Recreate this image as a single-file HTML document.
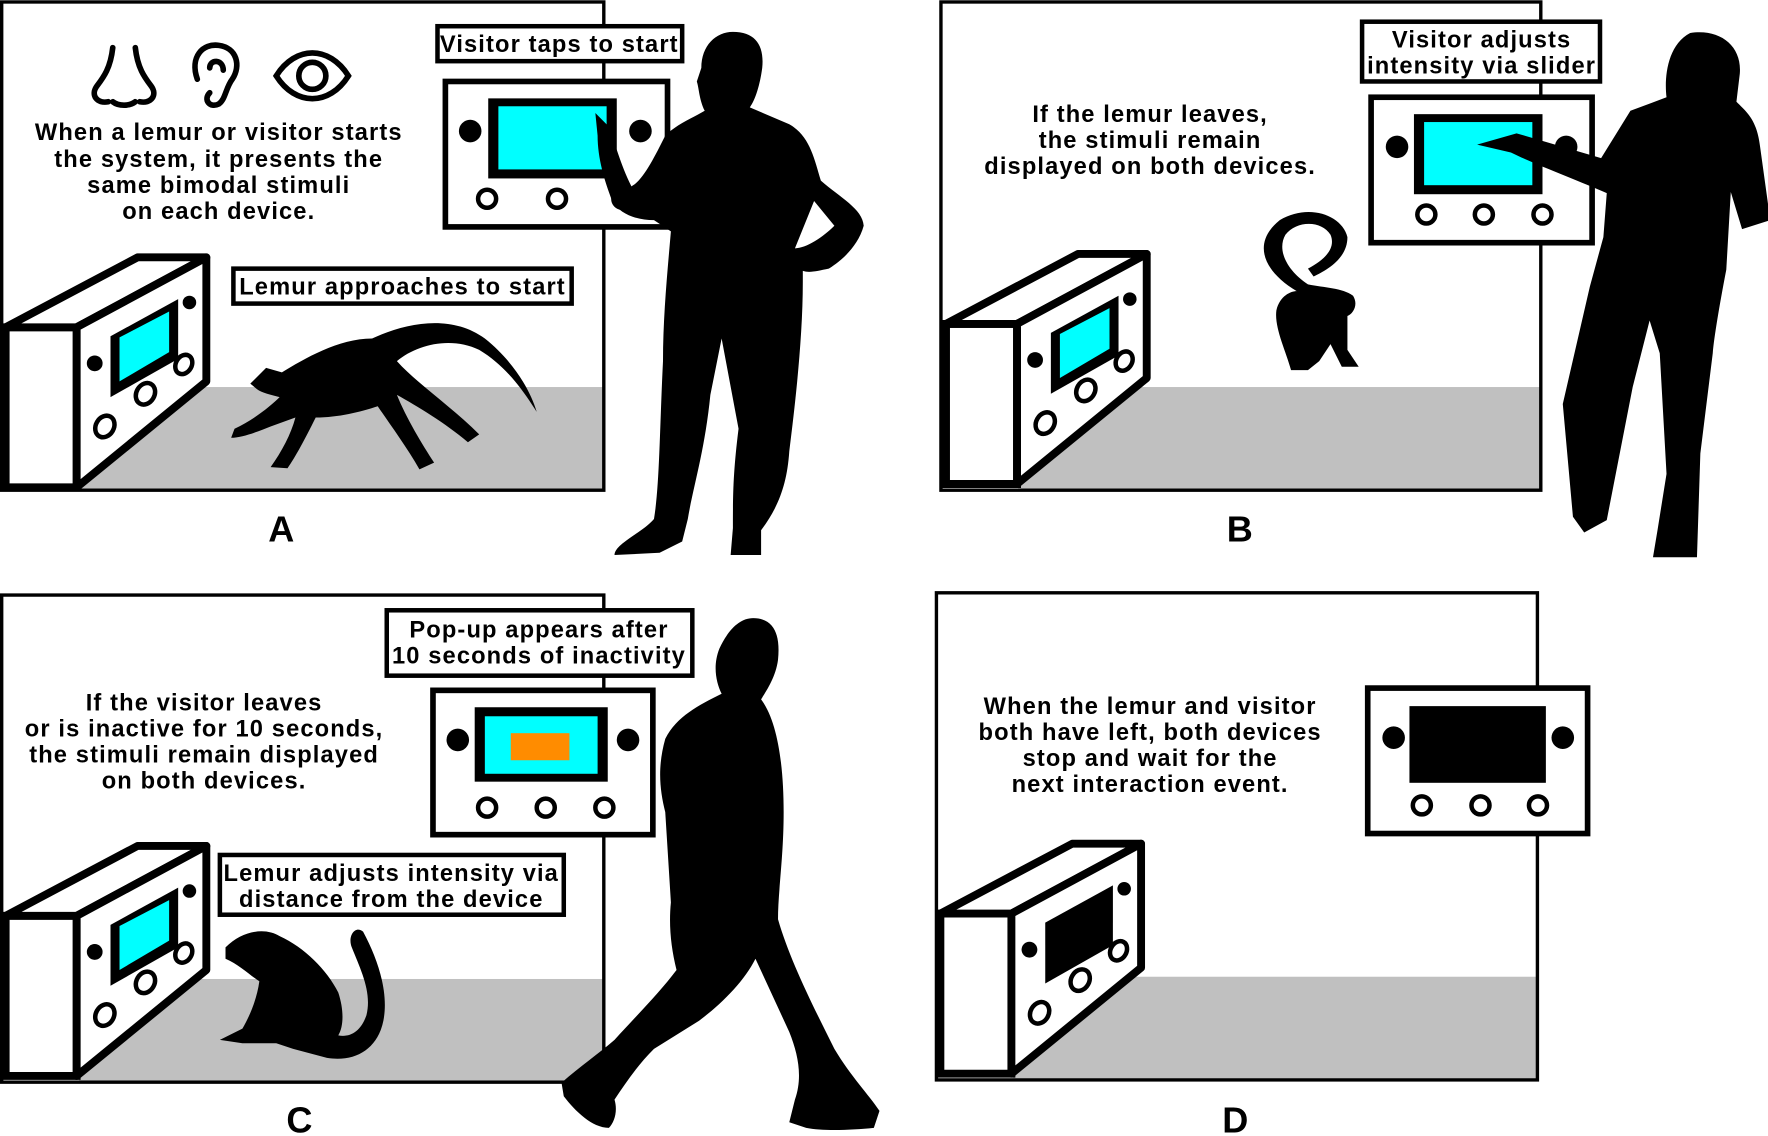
<!DOCTYPE html>
<html><head><meta charset="utf-8"><style>
html,body{margin:0;padding:0;background:#fff;width:1768px;height:1136px;overflow:hidden}
svg{display:block}
text{font-family:"Liberation Sans",sans-serif;font-weight:bold;fill:#000;letter-spacing:1px}
</style></head><body>
<svg width="1768" height="1136" viewBox="0 0 1568 1007" xmlns="http://www.w3.org/2000/svg">
<defs>
<g id="box3d">
  <polygon points="5,290 68,290 68,432 5,432" fill="#fff" stroke="#000" stroke-width="7"/>
  <polygon points="5,290 122,228 183,228 68,290" fill="#fff" stroke="#000" stroke-width="7" stroke-linejoin="round"/>
  <polygon points="68,290 183,228 183,338 68,432" fill="#fff" stroke="#000" stroke-width="7" stroke-linejoin="round"/>
  <polygon points="98,298 158,265 158,318 98,352" fill="#000"/>
  <polygon points="106,299 150,276 150,312 106,338" fill="CYAN"/>
  <circle cx="84" cy="322" r="7" fill="#000"/>
  <circle cx="168" cy="268" r="6" fill="#000"/>
  <ellipse cx="93" cy="378" rx="8" ry="10" transform="rotate(30 93 378)" fill="#fff" stroke="#000" stroke-width="4"/>
  <ellipse cx="129" cy="349" rx="8" ry="10" transform="rotate(30 129 349)" fill="#fff" stroke="#000" stroke-width="4"/>
  <ellipse cx="163" cy="323" rx="7" ry="9" transform="rotate(30 163 323)" fill="#fff" stroke="#000" stroke-width="4"/>
</g>
</defs>

<rect x="70" y="343" width="465" height="90" fill="#c0c0c0"/>
<rect x="1.5" y="1.5" width="534" height="433" fill="none" stroke="#000" stroke-width="3"/>
<rect x="903" y="343" width="463" height="90" fill="#c0c0c0"/>
<rect x="834.5" y="1.5" width="532" height="433" fill="none" stroke="#000" stroke-width="3"/>
<rect x="70" y="868" width="465" height="90" fill="#c0c0c0"/>
<rect x="1.5" y="527.5" width="534" height="432" fill="none" stroke="#000" stroke-width="3"/>
<rect x="898" y="866" width="465" height="90" fill="#c0c0c0"/>
<rect x="830.5" y="525.5" width="533" height="432" fill="none" stroke="#000" stroke-width="3"/>

<!-- Panel A -->
<use href="#box3d"/>
<g fill="none" stroke="#000" stroke-width="5" stroke-linecap="round">
 <path d="M100,42 C98,60 92,68 86,76 C80,84 86,92 96,90 M120,42 C122,60 128,68 134,76 C140,84 134,92 124,90 M100,90 C105,94 115,94 120,90"/>
 <path d="M175,70 C168,50 180,38 194,40 C210,42 214,58 206,70 C200,78 200,88 194,92 C186,96 180,88 186,82"/>
 <path d="M186,60 C186,52 198,52 198,62"/>
 <path d="M245,67 C262,40 292,40 309,67 C292,94 262,94 245,67 Z"/>
 <circle cx="277" cy="67" r="12"/>
</g>
<text font-size="21" text-anchor="middle"><tspan x="194" y="124">When a lemur or visitor starts</tspan><tspan x="194" y="148">the system, it presents the</tspan><tspan x="194" y="171">same bimodal stimuli</tspan><tspan x="194" y="194">on each device.</tspan></text>
<rect x="388" y="23" width="217" height="31" fill="#fff" stroke="#000" stroke-width="4"/>
<text x="496" y="46" font-size="21" text-anchor="middle">Visitor taps to start</text>
<rect x="395" y="72" width="197" height="129" fill="#fff" stroke="#000" stroke-width="5"/>
<rect x="433" y="87" width="114" height="71" fill="#000"/><rect x="442" y="94" width="96" height="56" fill="CYAN"/>
<circle cx="417" cy="116" r="10" fill="#000"/><circle cx="568" cy="116" r="10" fill="#000"/>
<circle cx="432" cy="176" r="8" fill="#fff" stroke="#000" stroke-width="4"/><circle cx="494" cy="176" r="8" fill="#fff" stroke="#000" stroke-width="4"/><circle cx="552" cy="176" r="8" fill="#fff" stroke="#000" stroke-width="4"/>
<rect x="207" y="238" width="300" height="31" fill="#fff" stroke="#000" stroke-width="4"/>
<text x="357" y="261" font-size="21" text-anchor="middle">Lemur approaches to start</text>
<path fill="#000" d="M222,340 L236,326 L250,330 C270,318 300,300 330,300 C360,286 400,278 430,300 C455,320 470,345 476,365 C465,348 450,325 425,310 C400,298 370,305 352,320 C370,340 400,360 425,385 L415,392 C395,375 370,360 352,350 C360,370 375,395 385,410 L372,416 C360,395 345,375 335,360 C320,365 300,370 280,370 C270,390 262,405 255,415 L240,414 C250,400 258,385 262,370 L240,378 C230,382 215,388 205,388 L208,380 C225,372 240,360 248,352 C240,350 232,348 228,345 Z"/>
<path fill="#000" fill-rule="evenodd" d="M650,28 C670,28 678,40 676,60 C674,75 670,88 665,95 L700,110 C718,120 722,140 728,160 C745,175 765,185 766,200 C760,222 740,235 735,238 C725,240 718,242 712,240 L712,250 C712,300 705,360 700,400 C698,430 690,450 675,470 L675,492 L648,492 L650,468 C650,440 650,420 655,380 L640,300 L630,350 C625,400 615,430 610,460 L605,480 L585,490 L545,492 C545,482 570,472 580,460 C585,430 585,380 588,320 C588,280 592,240 595,205 L580,195 C565,195 550,190 543,178 C536,160 530,140 530,120 L528,100 L540,112 C545,125 550,145 560,165 C570,160 580,140 590,120 C600,110 615,104 625,98 C620,88 620,78 618,72 L622,60 C622,40 635,28 650,28 Z M705,220 C715,220 730,210 740,200 L722,178 Z"/>
<text x="250" y="480" font-size="32" text-anchor="middle">A</text>

<!-- Panel B -->
<use href="#box3d" transform="translate(834,-3)"/>
<text font-size="21" text-anchor="middle"><tspan x="1020" y="108">If the lemur leaves,</tspan><tspan x="1020" y="131">the stimuli remain</tspan><tspan x="1020" y="154">displayed on both devices.</tspan></text>
<rect x="1208" y="19" width="211" height="53" fill="#fff" stroke="#000" stroke-width="4"/>
<text font-size="21" text-anchor="middle"><tspan x="1314" y="42">Visitor adjusts</tspan><tspan x="1314" y="65">intensity via slider</tspan></text>
<rect x="1216" y="86" width="196" height="129" fill="#fff" stroke="#000" stroke-width="5"/>
<rect x="1254" y="101" width="114" height="71" fill="#000"/><rect x="1263" y="108" width="96" height="56" fill="CYAN"/>
<circle cx="1239" cy="130" r="10" fill="#000"/><circle cx="1389" cy="130" r="10" fill="#000"/>
<circle cx="1265" cy="190" r="8" fill="#fff" stroke="#000" stroke-width="4"/><circle cx="1316" cy="190" r="8" fill="#fff" stroke="#000" stroke-width="4"/><circle cx="1368" cy="190" r="8" fill="#fff" stroke="#000" stroke-width="4"/>
<path fill="#000" d="M1150,258 C1120,240 1110,215 1135,195 C1160,180 1190,190 1195,210 C1195,230 1175,240 1165,245 L1160,238 C1175,230 1185,220 1180,208 C1172,195 1150,195 1140,208 C1132,222 1142,240 1160,252 C1175,255 1190,255 1200,262 C1205,270 1200,278 1195,280 L1195,310 L1205,325 L1190,325 L1180,305 L1170,320 L1160,328 L1145,328 C1140,310 1130,290 1132,275 C1135,262 1145,258 1150,258 Z"/>
<path fill="#000" d="M1499,29 C1525,25 1545,40 1543,65 L1540,90 C1550,100 1558,106 1561,130 L1570,195 L1545,203 L1535,170 L1531,239 C1525,270 1520,300 1519,313 L1508,402 L1505,494 L1466,494 L1470,470 L1478,420 L1472,313 L1463,284 L1448,343 L1425,461 L1405,472 L1395,458 L1386,358 L1410,254 L1422,210 L1425,171 C1400,160 1360,145 1340,135 L1310,128 L1345,118 L1420,140 L1446,98 L1478,86 C1476,70 1478,40 1499,29 Z"/>
<text x="1100" y="480" font-size="32" text-anchor="middle">B</text>

<!-- Panel C -->
<use href="#box3d" transform="translate(0,522)"/>
<text font-size="21" text-anchor="middle"><tspan x="181" y="630">If the visitor leaves</tspan><tspan x="181" y="653">or is inactive for 10 seconds,</tspan><tspan x="181" y="676">the stimuli remain displayed</tspan><tspan x="181" y="699">on both devices.</tspan></text>
<rect x="343" y="541" width="271" height="58" fill="#fff" stroke="#000" stroke-width="4"/>
<text font-size="21" text-anchor="middle"><tspan x="478" y="565">Pop-up appears after</tspan><tspan x="478" y="588">10 seconds of inactivity</tspan></text>
<rect x="384" y="612" width="195" height="128" fill="#fff" stroke="#000" stroke-width="5"/>
<rect x="421" y="627" width="118" height="66" fill="#000"/><rect x="430" y="635" width="100" height="51" fill="CYAN"/>
<rect x="453" y="650" width="52" height="24" fill="#ff8c00"/>
<circle cx="406" cy="656" r="10" fill="#000"/><circle cx="557" cy="656" r="10" fill="#000"/>
<circle cx="432" cy="716" r="8" fill="#fff" stroke="#000" stroke-width="4"/><circle cx="484" cy="716" r="8" fill="#fff" stroke="#000" stroke-width="4"/><circle cx="536" cy="716" r="8" fill="#fff" stroke="#000" stroke-width="4"/>
<rect x="195" y="758" width="305" height="53" fill="#fff" stroke="#000" stroke-width="4"/>
<text font-size="21" text-anchor="middle"><tspan x="347" y="781">Lemur adjusts intensity via</tspan><tspan x="347" y="804">distance from the device</tspan></text>
<path fill="#000" d="M200,840 C215,825 235,822 248,830 C270,840 290,860 300,880 C305,895 305,910 300,918 C310,920 320,915 325,900 C330,880 320,860 312,840 C308,830 315,820 322,826 C335,850 345,880 340,905 C335,930 315,942 290,938 L260,930 L245,925 L215,925 L195,922 L215,912 C222,900 228,885 230,870 C222,865 212,855 200,850 Z"/>
<path fill="#000" d="M668,548 C688,548 692,565 690,585 C688,600 680,612 675,620 C690,640 695,680 695,720 C695,760 690,790 690,815 C700,850 720,890 740,930 C755,955 770,970 780,985 L775,1000 C755,1002 730,1003 715,1000 L700,995 L705,975 C712,955 708,935 700,915 L670,850 C660,870 640,890 620,905 L580,930 C565,945 555,960 545,975 C548,985 545,995 540,1000 C525,1000 510,985 500,972 L498,960 C515,945 530,935 545,922 C565,900 585,880 600,860 C595,840 593,820 595,800 L590,720 C585,700 583,680 590,655 C600,635 620,625 640,615 C635,605 632,590 638,575 C645,560 655,548 668,548 Z"/>
<text x="266" y="1004" font-size="32" text-anchor="middle">C</text>

<!-- Panel D -->
<g transform="translate(829,520)">
  <polygon points="5,290 68,290 68,432 5,432" fill="#fff" stroke="#000" stroke-width="7"/>
  <polygon points="5,290 122,228 183,228 68,290" fill="#fff" stroke="#000" stroke-width="7" stroke-linejoin="round"/>
  <polygon points="68,290 183,228 183,338 68,432" fill="#fff" stroke="#000" stroke-width="7" stroke-linejoin="round"/>
  <polygon points="98,298 158,265 158,318 98,352" fill="#000"/>
  <circle cx="84" cy="322" r="7" fill="#000"/>
  <circle cx="168" cy="268" r="6" fill="#000"/>
  <ellipse cx="93" cy="378" rx="8" ry="10" transform="rotate(30 93 378)" fill="#fff" stroke="#000" stroke-width="4"/>
  <ellipse cx="129" cy="349" rx="8" ry="10" transform="rotate(30 129 349)" fill="#fff" stroke="#000" stroke-width="4"/>
  <ellipse cx="163" cy="323" rx="7" ry="9" transform="rotate(30 163 323)" fill="#fff" stroke="#000" stroke-width="4"/>
</g>
<text font-size="21" text-anchor="middle"><tspan x="1020" y="633">When the lemur and visitor</tspan><tspan x="1020" y="656">both have left, both devices</tspan><tspan x="1020" y="679">stop and wait for the</tspan><tspan x="1020" y="702">next interaction event.</tspan></text>
<rect x="1213" y="610" width="195" height="129" fill="#fff" stroke="#000" stroke-width="5"/>
<rect x="1250" y="626" width="121" height="68" fill="#000"/>
<circle cx="1236" cy="654" r="10" fill="#000"/><circle cx="1386" cy="654" r="10" fill="#000"/>
<circle cx="1261" cy="714" r="8" fill="#fff" stroke="#000" stroke-width="4"/><circle cx="1313" cy="714" r="8" fill="#fff" stroke="#000" stroke-width="4"/><circle cx="1364" cy="714" r="8" fill="#fff" stroke="#000" stroke-width="4"/>
<text x="1096" y="1004" font-size="32" text-anchor="middle">D</text>
</svg>
</body></html>
